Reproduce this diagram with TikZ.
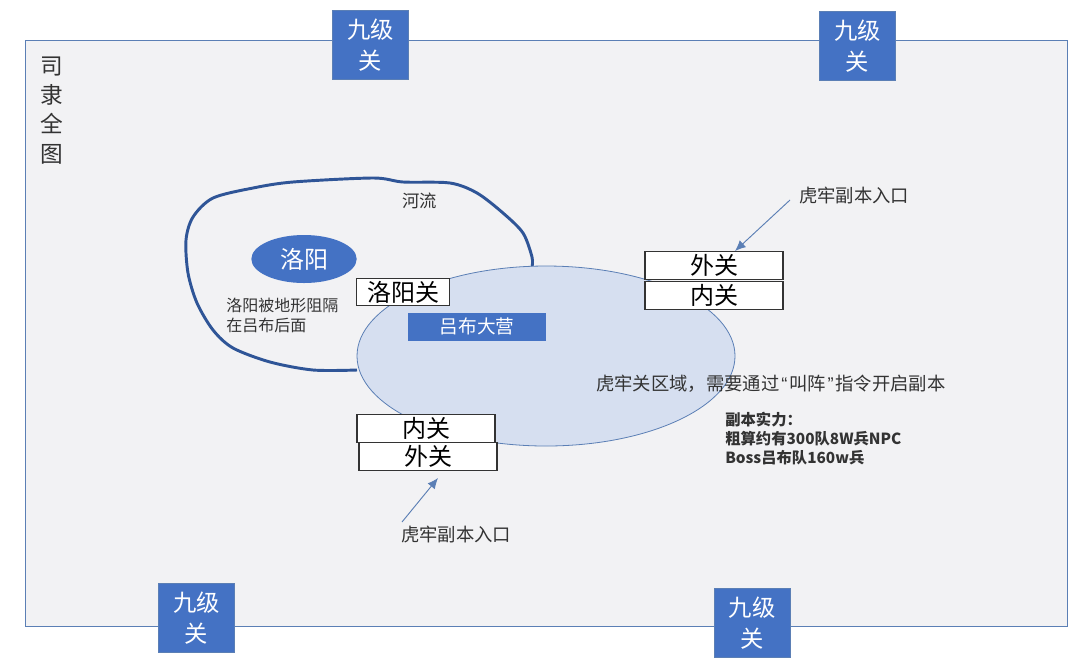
\documentclass[tikz,border=0pt]{standalone}
\usepackage{fontspec}
\setmainfont{Noto Sans CJK SC}
\newfontfamily\quotefont{Liberation Sans}
\usetikzlibrary{arrows.meta,shapes.geometric}
\definecolor{pageg}{HTML}{F2F2F4}
\definecolor{frameb}{HTML}{5B7FB5}
\definecolor{fillb}{HTML}{4472C4}
\definecolor{campb}{HTML}{D6DFF0}
\definecolor{riverb}{HTML}{2F5597}
\definecolor{inkg}{HTML}{333333}
\tikzset{
 px/.style={x=0.75pt,y=-0.75pt},
 bluebox/.style={rectangle,fill=fillb,draw=frameb,line width=0.4pt,text=white,minimum width=57pt,minimum height=51.5pt,inner sep=0pt,align=center,font=\fontsize{17.5}{23}\selectfont},
 passbox/.style={rectangle,fill=white,draw=inkg,line width=0.8pt,text=black,minimum width=103.5pt,minimum height=20.5pt,inner sep=0pt,font=\fontsize{18}{18}\selectfont},
 label/.style={inner sep=0pt,text=inkg,align=left,font=\fontsize{12}{15}\selectfont},
 entrytext/.style={label,anchor=west,font=\fontsize{13.75}{16}\selectfont},
 entry/.style={-{Latex[length=8pt,width=7pt]},draw=frameb,line width=0.7pt},
}
\begin{document}
\begin{tikzpicture}[px]
\useasboundingbox (0,0) rectangle (1080,669);
\fill[white] (0,0) rectangle (1080,669);
\node[rectangle,draw=frameb,fill=pageg,line width=0.6pt,minimum width=782pt,minimum height=440pt,inner sep=0pt] (map) at (546.5,333.5) {};
\node[label,font=\fontsize{17}{21.8}\selectfont,align=center,anchor=north] (title) at (52,57) {司\\隶\\全\\图};
\draw[riverb,line width=2.2pt,line join=round] plot[smooth,tension=0.5] coordinates {(357,370) (313,370) (270,362) (233,348) (213,330) (197,303) (188,273) (186,240) (193,217) (213,198) (253,188) (293,182) (373,178) (403,182) (450,183) (477,193) (503,213) (523,233) (532,257) (532,267)};
\node[ellipse,draw=frameb,fill=campb,line width=0.6pt,minimum width=283.5pt,minimum height=135pt,inner sep=0pt] (camp) at (546,356) {};
\node[ellipse,fill=fillb,text=white,minimum width=79pt,minimum height=36pt,inner sep=0pt,font=\fontsize{18}{18}\selectfont] (luoyang) at (304,259) {洛阳};
\node[label,font=\fontsize{13}{15}\selectfont] (river) at (419.5,201) {河流};
\node[label,anchor=west] (note) at (226,315) {洛阳被地形阻隔\\在吕布后面};
\node[passbox,minimum width=69.5pt] (lyg) at (403,292) {洛阳关};
\node[rectangle,fill=fillb,text=white,minimum width=103.5pt,minimum height=21pt,inner sep=0pt,font=\fontsize{14}{14}\selectfont] (lvbu) at (477,326.5) {吕布大营};
\node[passbox] (wai1) at (714,265.5) {外关};
\node[passbox] (nei1) at (714,295.5) {内关};
\node[passbox] (nei2) at (426,428.5) {内关};
\node[passbox] (wai2) at (428,456.5) {外关};
\node[entrytext] (entry1) at (799,196) {虎牢副本入口};
\node[entrytext] (entry2) at (401,534) {虎牢副本入口};
\coordinate (e1s) at (790,200);
\coordinate (e1t) at (735,251);
\coordinate (e2s) at (402,522);
\coordinate (e2t) at (438,478);
\draw[entry] (e1s) -- (e1t);
\draw[entry] (e2s) -- (e2t);
\node[entrytext] (region) at (596,384) {虎牢关区域，需要通过\kern1.3pt{\quotefont “}\kern1.3pt叫阵\kern1.3pt{\quotefont ”}\kern1.3pt指令开启副本};
\node[label,anchor=west,font=\bfseries\fontsize{11.5}{14.25}\selectfont] (power) at (725,439) {副本实力：\\粗算约有300队8W兵NPC\\Boss吕布队160w兵};
\node[bluebox] (g1) at (370.5,45) {九级\\关};
\node[bluebox] (g2) at (857.5,46) {九级\\关};
\node[bluebox] (g3) at (196.5,618) {九级\\关};
\node[bluebox] (g4) at (752,623) {九级\\关};
\end{tikzpicture}
\end{document}
